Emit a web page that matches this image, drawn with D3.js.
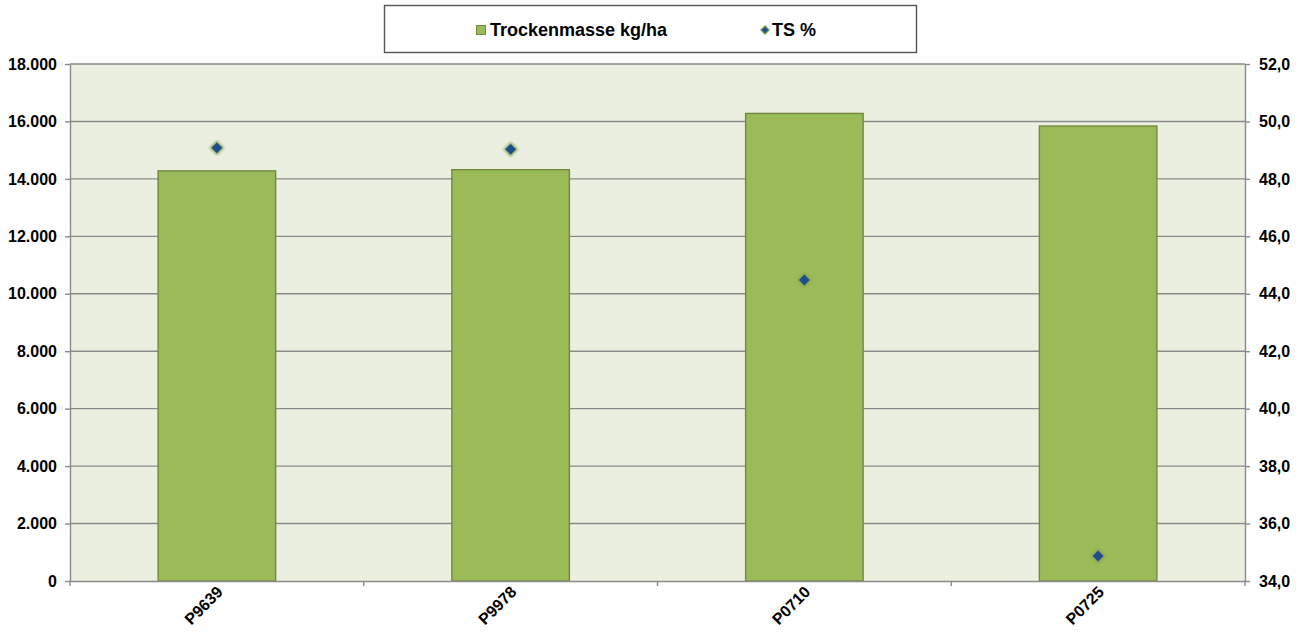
<!DOCTYPE html>
<html><head><meta charset="utf-8">
<script src="https://cdn.jsdelivr.net/npm/d3@7"></script>
<style>body{margin:0;background:#fff}svg{display:block}text{font-family:"Liberation Sans",Arial,sans-serif}</style>
</head><body><svg id="c" width="1304" height="635"></svg>
<script>
const categories = ["P9639","P9978","P0710","P0725"];
const trockenmasse = [14280, 14320, 16280, 15840];
const tsPercent = [49.08, 49.03, 44.48, 34.87];
const leftTicks = [0,2000,4000,6000,8000,10000,12000,14000,16000,18000];
const rightTicks = [34,36,38,40,42,44,46,48,50,52];
const seriesNames = ["Trockenmasse kg/ha","TS %"];

const svg = d3.select("#c");
const L=70, R=1245, T=64, B=581;
const x = d3.scaleBand().domain(categories).range([L,R]).paddingInner(0.6).paddingOuter(0.3);
const xb = d3.scaleBand().domain(categories).range([L,R]);
const yL = d3.scaleLinear().domain([0,18000]).range([B,T]);
const yR = d3.scaleLinear().domain([34,52]).range([B,T]);
const fmtL = v => d3.format(",")(v).replace(/,/g,".");
const fmtR = v => d3.format(".1f")(v).replace(".",",");

svg.append("rect").attr("x",L).attr("y",T).attr("width",R-L).attr("height",B-T).attr("fill","#ebefe0");
svg.append("g").selectAll("line").data(leftTicks.filter(d=>d>0)).join("line")
  .attr("x1",L).attr("x2",R).attr("y1",d=>yL(d)).attr("y2",d=>yL(d))
  .attr("stroke","#8a8a8a").attr("stroke-width",1.4);

svg.append("g").selectAll("rect").data(categories).join("rect")
  .attr("x",d=>x(d)).attr("width",x.bandwidth())
  .attr("y",(d,i)=>yL(trockenmasse[i])).attr("height",(d,i)=>B-yL(trockenmasse[i]))
  .attr("fill","#9bbb59").attr("stroke","#71893f").attr("stroke-width",1.4);

const axStyle = g => { g.select(".domain").attr("stroke","#8a8a8a").attr("stroke-width",1.4);
  g.selectAll(".tick line").attr("stroke","#8a8a8a").attr("stroke-width",1.4);
  g.selectAll("text").attr("font-size",16).attr("font-weight","bold").attr("fill","#000"); };
svg.append("g").attr("transform",`translate(${L},0)`)
  .call(d3.axisLeft(yL).tickValues(leftTicks).tickFormat(fmtL).tickSize(5).tickSizeOuter(0).tickPadding(8))
  .call(axStyle);
svg.append("g").attr("transform",`translate(${R},0)`)
  .call(d3.axisRight(yR).tickValues(rightTicks).tickFormat(fmtR).tickSize(5).tickSizeOuter(0).tickPadding(9))
  .call(axStyle);
const xg = svg.append("g").attr("transform",`translate(0,${B})`)
  .call(d3.axisBottom(xb).tickSize(0).tickSizeOuter(0).tickFormat(d=>d));
xg.select(".domain").attr("stroke","#8a8a8a").attr("stroke-width",1.4);
xg.selectAll(".tick text").attr("font-size",16).attr("font-weight","bold").attr("fill","#000")
  .attr("text-anchor","end").attr("dy",0).attr("y",0)
  .attr("transform","translate(7,12) rotate(-45)");
const bounds = categories.map(c=>xb(c)).concat([R]);
svg.append("g").selectAll("line").data(bounds).join("line")
  .attr("x1",d=>d).attr("x2",d=>d).attr("y1",B).attr("y2",B+5)
  .attr("stroke","#8a8a8a").attr("stroke-width",1.4);

const defs = svg.append("defs");
const f = defs.append("filter").attr("id","glow").attr("x","-50%").attr("y","-50%").attr("width","200%").attr("height","200%");
f.append("feGaussianBlur").attr("stdDeviation",1.3);
const diamond = d3.symbol().type(d3.symbolDiamond2).size(75);
const dg = svg.append("g");
categories.forEach((c,i)=>{
  const cx = x(c)+x.bandwidth()/2, cy = yR(tsPercent[i]);
  dg.append("path").attr("d",d3.symbol().type(d3.symbolDiamond2).size(150)()).attr("transform",`translate(${cx},${cy})`)
    .attr("fill","#86a552").attr("opacity",0.85).attr("filter","url(#glow)");
  dg.append("path").attr("d",diamond()).attr("transform",`translate(${cx},${cy})`).attr("fill","#1f4e8c");
});

svg.append("rect").attr("x",384.5).attr("y",5.5).attr("width",532).attr("height",47)
  .attr("fill","#fff").attr("stroke","#555").attr("stroke-width",1.4);
svg.append("rect").attr("x",476.5).attr("y",25.5).attr("width",9).attr("height",9)
  .attr("fill","#9bbb59").attr("stroke","#71893f").attr("stroke-width",1);
svg.append("text").attr("x",490).attr("y",36).attr("font-size",18).attr("font-weight","bold").text(seriesNames[0]);
svg.append("path").attr("d",d3.symbol().type(d3.symbolDiamond2).size(45)()).attr("transform","translate(765,30)")
  .attr("fill","#1f4e8c").attr("stroke","#86a552").attr("stroke-width",1.2);
svg.append("text").attr("x",772).attr("y",36).attr("font-size",18).attr("font-weight","bold").text(seriesNames[1]);
</script></body></html>
